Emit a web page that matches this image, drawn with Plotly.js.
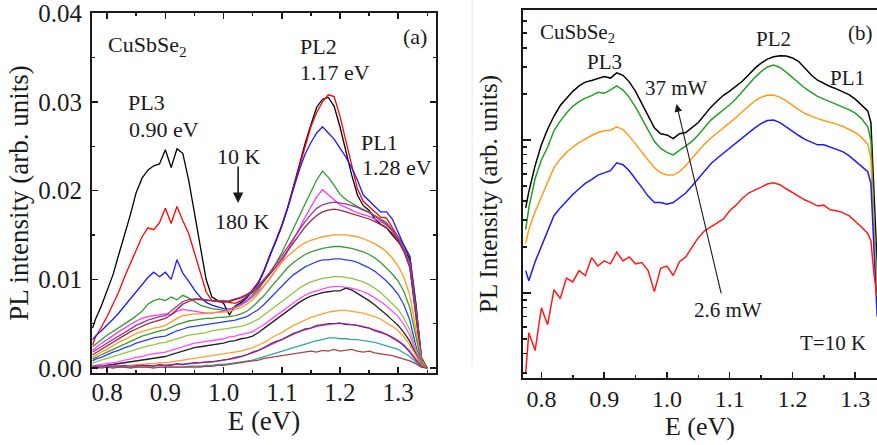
<!DOCTYPE html>
<html><head><meta charset="utf-8">
<script src="https://cdn.plot.ly/plotly-3.0.1.min.js"></script>
<style>html,body{margin:0;padding:0;background:#fff}#chart{width:877px;height:445px}</style>
</head><body><div id="chart"></div>
<script>
// ---------- Panel (a): temperature series, E (eV) vs PL intensity ----------
const energyA = [0.775,0.78,0.79,0.80,0.81,0.82,0.83,0.84,0.85,0.86,0.87,0.88,0.89,0.90,0.91,0.92,0.93,0.94,0.95,0.96,0.97,0.98,0.99,1.00,1.01,1.02,1.03,1.04,1.05,1.06,1.07,1.08,1.09,1.10,1.11,1.12,1.13,1.14,1.15,1.16,1.17,1.18,1.19,1.20,1.21,1.22,1.23,1.24,1.25,1.26,1.27,1.28,1.29,1.30,1.31,1.32,1.33,1.34,1.35];
const tempLabels = ['10 K','20 K','30 K','40 K','50 K','60 K','70 K','80 K','90 K','100 K','110 K','120 K','130 K','140 K','150 K','160 K','170 K','180 K'];
const pl10K = [4.5e-3,5.5e-3,7.0e-3,8.7e-3,10.5e-3,12.8e-3,15.0e-3,17.3e-3,19.8e-3,21.4e-3,22.3e-3,22.8e-3,23.0e-3,24.6e-3,22.6e-3,24.7e-3,24.2e-3,21.2e-3,17.5e-3,13.7e-3,10.0e-3,8.0e-3,7.6e-3,7.3e-3,6.0e-3,7.0e-3,7.4e-3,8.0e-3,8.8e-3,9.6e-3,11.0e-3,12.8e-3,14.3e-3,16.0e-3,18.0e-3,20.4e-3,23.0e-3,25.3e-3,27.4e-3,29.4e-3,30.3e-3,30.5e-3,29.5e-3,27.2e-3,24.5e-3,21.8e-3,19.5e-3,18.3e-3,17.8e-3,16.8e-3,16.2e-3,15.8e-3,15.0e-3,14.3e-3,13.5e-3,12.2e-3,7.0e-3,1.0e-3,0];
const pl20K = [2.6e-3,3.5e-3,4.6e-3,5.8e-3,7.2e-3,8.6e-3,10.3e-3,11.8e-3,13.3e-3,14.8e-3,15.8e-3,15.6e-3,16.4e-3,18.0e-3,16.3e-3,18.2e-3,16.6e-3,15.2e-3,13.0e-3,10.8e-3,8.6e-3,7.6e-3,7.5e-3,7.6e-3,7.4e-3,7.3e-3,7.6e-3,8.0e-3,8.9e-3,9.7e-3,11.0e-3,12.7e-3,14.4e-3,16.1e-3,18.1e-3,20.4e-3,22.9e-3,25.2e-3,27.2e-3,28.8e-3,30.0e-3,30.8e-3,30.6e-3,28.4e-3,25.6e-3,22.8e-3,20.2e-3,18.8e-3,18.2e-3,17.6e-3,17.0e-3,16.9e-3,15.8e-3,14.8e-3,13.8e-3,12.6e-3,7.5e-3,1.2e-3,0];
const pl30K = [3.2e-3,3.6e-3,4.2e-3,4.8e-3,5.5e-3,6.2e-3,7.0e-3,7.7e-3,8.6e-3,9.3e-3,10.2e-3,10.8e-3,10.3e-3,10.8e-3,10.0e-3,12.2e-3,10.7e-3,9.8e-3,8.8e-3,8.0e-3,7.4e-3,7.1e-3,6.9e-3,6.7e-3,6.6e-3,6.9e-3,7.3e-3,7.9e-3,8.7e-3,9.6e-3,11.1e-3,12.7e-3,14.3e-3,16.0e-3,18.0e-3,20.2e-3,22.3e-3,24.1e-3,25.4e-3,26.5e-3,27.2e-3,26.5e-3,25.8e-3,24.8e-3,23.8e-3,22.6e-3,21.2e-3,19.5e-3,18.8e-3,18.2e-3,17.6e-3,17.6e-3,16.8e-3,15.2e-3,13.8e-3,12.6e-3,7.5e-3,1.0e-3,0];
const pl40K = [2.4e-3,2.7e-3,3.2e-3,3.7e-3,4.1e-3,4.5e-3,5.0e-3,5.4e-3,5.9e-3,6.4e-3,7.2e-3,7.6e-3,7.8e-3,7.6e-3,8.0e-3,7.7e-3,8.2e-3,7.9e-3,7.5e-3,7.1e-3,6.9e-3,6.7e-3,6.6e-3,6.5e-3,6.6e-3,6.9e-3,7.2e-3,7.6e-3,8.2e-3,8.9e-3,9.8e-3,10.8e-3,11.8e-3,13.0e-3,14.3e-3,15.7e-3,17.1e-3,18.5e-3,19.9e-3,21.2e-3,22.2e-3,21.5e-3,20.6e-3,19.6e-3,19.0e-3,18.6e-3,18.2e-3,17.9e-3,17.6e-3,17.2e-3,16.8e-3,16.4e-3,15.6e-3,14.7e-3,13.5e-3,11.8e-3,6.8e-3,1.0e-3,0];
const pl50K = [2.0e-3,2.3e-3,2.8e-3,3.2e-3,3.7e-3,4.1e-3,4.5e-3,4.9e-3,5.3e-3,5.6e-3,5.8e-3,5.9e-3,6.0e-3,6.1e-3,6.0e-3,6.4e-3,6.6e-3,6.5e-3,6.4e-3,6.3e-3,6.2e-3,6.2e-3,6.3e-3,6.4e-3,6.6e-3,6.8e-3,7.1e-3,7.5e-3,8.0e-3,8.6e-3,9.3e-3,10.1e-3,11.0e-3,12.0e-3,13.2e-3,14.4e-3,15.7e-3,17.0e-3,18.2e-3,19.3e-3,20.1e-3,19.5e-3,18.9e-3,18.4e-3,18.1e-3,17.8e-3,17.5e-3,17.3e-3,17.1e-3,16.8e-3,16.5e-3,16.1e-3,15.5e-3,14.6e-3,13.4e-3,11.6e-3,6.5e-3,1.0e-3,0];
const pl60K = [1.8e-3,2.0e-3,2.4e-3,2.8e-3,3.2e-3,3.6e-3,4.0e-3,4.4e-3,4.8e-3,5.1e-3,5.4e-3,5.6e-3,5.8e-3,5.9e-3,6.4e-3,7.0e-3,7.5e-3,7.7e-3,7.8e-3,7.8e-3,7.7e-3,7.6e-3,7.6e-3,7.5e-3,7.6e-3,7.8e-3,8.0e-3,8.3e-3,8.7e-3,9.3e-3,10.0e-3,10.8e-3,11.7e-3,12.6e-3,13.6e-3,14.6e-3,15.6e-3,16.5e-3,17.3e-3,18.0e-3,18.4e-3,18.6e-3,18.7e-3,18.6e-3,18.5e-3,18.3e-3,18.1e-3,17.8e-3,17.5e-3,17.1e-3,16.7e-3,16.2e-3,15.5e-3,14.5e-3,13.3e-3,11.5e-3,6.3e-3,0.9e-3,0];
const pl70K = [1.5e-3,1.7e-3,2.1e-3,2.5e-3,2.9e-3,3.3e-3,3.7e-3,4.1e-3,4.4e-3,4.7e-3,5.0e-3,5.2e-3,5.4e-3,5.6e-3,6.0e-3,6.6e-3,7.2e-3,7.5e-3,7.7e-3,7.7e-3,7.6e-3,7.6e-3,7.5e-3,7.4e-3,7.5e-3,7.7e-3,7.9e-3,8.2e-3,8.5e-3,9.1e-3,9.8e-3,10.6e-3,11.4e-3,12.3e-3,13.2e-3,14.1e-3,15.0e-3,15.9e-3,16.6e-3,17.2e-3,17.6e-3,17.8e-3,17.9e-3,17.8e-3,17.6e-3,17.4e-3,17.2e-3,17.0e-3,16.8e-3,16.5e-3,16.2e-3,15.8e-3,15.2e-3,14.3e-3,13.1e-3,11.3e-3,6.2e-3,0.9e-3,0];
const pl80K = [1.2e-3,1.4e-3,1.8e-3,2.1e-3,2.5e-3,2.9e-3,3.2e-3,3.6e-3,3.9e-3,4.1e-3,4.3e-3,4.5e-3,4.6e-3,4.8e-3,5.2e-3,5.6e-3,5.9e-3,6.0e-3,6.1e-3,6.1e-3,6.2e-3,6.2e-3,6.3e-3,6.3e-3,6.4e-3,6.6e-3,6.8e-3,7.2e-3,7.7e-3,8.4e-3,9.3e-3,10.2e-3,11.1e-3,11.9e-3,12.6e-3,13.2e-3,13.7e-3,14.1e-3,14.4e-3,14.6e-3,14.8e-3,14.9e-3,15.0e-3,15.0e-3,15.0e-3,14.9e-3,14.8e-3,14.6e-3,14.3e-3,14.0e-3,13.6e-3,13.1e-3,12.4e-3,11.5e-3,10.2e-3,8.2e-3,4.5e-3,0.8e-3,0];
const pl90K = [1.0e-3,1.2e-3,1.5e-3,1.8e-3,2.1e-3,2.4e-3,2.7e-3,3.0e-3,3.3e-3,3.6e-3,3.8e-3,4.0e-3,4.2e-3,4.3e-3,4.6e-3,4.9e-3,5.1e-3,5.3e-3,5.4e-3,5.5e-3,5.6e-3,5.6e-3,5.7e-3,5.7e-3,5.8e-3,5.9e-3,6.1e-3,6.4e-3,6.9e-3,7.5e-3,8.2e-3,9.0e-3,9.8e-3,10.6e-3,11.3e-3,11.9e-3,12.4e-3,12.8e-3,13.1e-3,13.3e-3,13.5e-3,13.6e-3,13.7e-3,13.7e-3,13.6e-3,13.5e-3,13.3e-3,13.1e-3,12.8e-3,12.4e-3,11.9e-3,11.3e-3,10.6e-3,9.8e-3,8.6e-3,6.8e-3,3.5e-3,0.6e-3,0];
const pl100K = [0.8e-3,1.0e-3,1.2e-3,1.5e-3,1.8e-3,2.0e-3,2.3e-3,2.5e-3,2.8e-3,3.0e-3,3.2e-3,3.4e-3,3.5e-3,3.6e-3,3.9e-3,4.2e-3,4.4e-3,4.6e-3,4.7e-3,4.8e-3,4.9e-3,5.0e-3,5.1e-3,5.2e-3,5.3e-3,5.4e-3,5.6e-3,5.8e-3,6.2e-3,6.6e-3,7.2e-3,7.9e-3,8.5e-3,9.2e-3,9.9e-3,10.5e-3,11.0e-3,11.4e-3,11.7e-3,12.0e-3,12.2e-3,12.2e-3,12.3e-3,12.3e-3,12.2e-3,12.1e-3,11.9e-3,11.6e-3,11.3e-3,10.9e-3,10.4e-3,9.8e-3,9.1e-3,8.3e-3,7.1e-3,5.4e-3,2.6e-3,0.4e-3,0];
const pl110K = [0.5e-3,0.7e-3,0.9e-3,1.1e-3,1.3e-3,1.5e-3,1.7e-3,1.9e-3,2.1e-3,2.3e-3,2.5e-3,2.6e-3,2.8e-3,2.9e-3,3.1e-3,3.3e-3,3.5e-3,3.7e-3,3.8e-3,3.9e-3,4.0e-3,4.2e-3,4.3e-3,4.4e-3,4.5e-3,4.6e-3,4.7e-3,4.9e-3,5.2e-3,5.5e-3,6.0e-3,6.5e-3,7.1e-3,7.6e-3,8.1e-3,8.6e-3,9.0e-3,9.4e-3,9.7e-3,9.9e-3,10.1e-3,10.2e-3,10.3e-3,10.3e-3,10.2e-3,10.1e-3,9.9e-3,9.7e-3,9.4e-3,9.0e-3,8.5e-3,7.9e-3,7.3e-3,6.6e-3,5.6e-3,4.3e-3,2.2e-3,0.4e-3,0];
const pl120K = [0.2e-3,0.3e-3,0.4e-3,0.5e-3,0.6e-3,0.7e-3,0.9e-3,1.0e-3,1.2e-3,1.3e-3,1.5e-3,1.6e-3,1.7e-3,1.8e-3,2.0e-3,2.2e-3,2.4e-3,2.6e-3,2.8e-3,2.9e-3,3.0e-3,3.1e-3,3.2e-3,3.3e-3,3.5e-3,3.6e-3,3.8e-3,3.9e-3,4.1e-3,4.5e-3,4.9e-3,5.4e-3,5.9e-3,6.4e-3,6.9e-3,7.4e-3,7.8e-3,8.2e-3,8.5e-3,8.7e-3,8.9e-3,9.1e-3,9.2e-3,9.2e-3,9.1e-3,9.0e-3,8.8e-3,8.6e-3,8.3e-3,7.9e-3,7.5e-3,7.0e-3,6.4e-3,5.8e-3,4.9e-3,3.7e-3,1.9e-3,0.3e-3,0];
const pl130K = [0,0.1e-3,0.2e-3,0.3e-3,0.4e-3,0.5e-3,0.6e-3,0.7e-3,0.8e-3,0.9e-3,1.0e-3,1.1e-3,1.2e-3,1.3e-3,1.5e-3,1.7e-3,1.9e-3,2.1e-3,2.3e-3,2.4e-3,2.5e-3,2.6e-3,2.7e-3,2.8e-3,3.0e-3,3.1e-3,3.3e-3,3.4e-3,3.6e-3,4.0e-3,4.5e-3,5.0e-3,5.5e-3,6.0e-3,6.5e-3,7.0e-3,7.4e-3,7.8e-3,8.1e-3,8.3e-3,8.5e-3,8.6e-3,8.7e-3,8.7e-3,9.0e-3,8.8e-3,8.4e-3,8.0e-3,7.6e-3,7.1e-3,6.6e-3,6.0e-3,5.4e-3,4.8e-3,4.0e-3,3.0e-3,1.6e-3,0.3e-3,0];
const pl140K = [0,0,0.1e-3,0.1e-3,0.2e-3,0.2e-3,0.3e-3,0.3e-3,0.4e-3,0.4e-3,0.5e-3,0.5e-3,0.6e-3,0.6e-3,0.7e-3,0.8e-3,0.9e-3,1.0e-3,1.1e-3,1.2e-3,1.3e-3,1.4e-3,1.5e-3,1.6e-3,1.7e-3,1.8e-3,1.9e-3,2.1e-3,2.3e-3,2.6e-3,2.9e-3,3.3e-3,3.7e-3,4.0e-3,4.4e-3,4.8e-3,5.1e-3,5.4e-3,5.7e-3,5.9e-3,6.1e-3,6.3e-3,6.4e-3,6.5e-3,6.5e-3,6.4e-3,6.3e-3,6.2e-3,6.0e-3,5.8e-3,5.5e-3,5.1e-3,4.7e-3,4.2e-3,3.5e-3,2.6e-3,1.4e-3,0.3e-3,0];
const pl150K = [0.3e-3,0.2e-3,0.3e-3,0.2e-3,0.3e-3,0.2e-3,0.3e-3,0.2e-3,0.3e-3,0.3e-3,0.2e-3,0.3e-3,0.3e-3,0.3e-3,0.4e-3,0.4e-3,0.4e-3,0.5e-3,0.5e-3,0.6e-3,0.6e-3,0.7e-3,0.8e-3,0.9e-3,1.0e-3,1.1e-3,1.3e-3,1.5e-3,1.7e-3,2.0e-3,2.3e-3,2.6e-3,2.9e-3,3.2e-3,3.5e-3,3.8e-3,4.1e-3,4.3e-3,4.5e-3,4.7e-3,4.8e-3,4.9e-3,5.0e-3,5.0e-3,5.0e-3,4.9e-3,4.8e-3,4.7e-3,4.5e-3,4.3e-3,4.1e-3,3.8e-3,3.5e-3,3.1e-3,2.6e-3,1.9e-3,1.0e-3,0.2e-3,0];
const pl160K = [0.1e-3,0.2e-3,0.1e-3,0.3e-3,0.1e-3,0.2e-3,0.2e-3,0.1e-3,0.2e-3,0.3e-3,0.3e-3,0.2e-3,0.4e-3,0.3e-3,0.3e-3,0.5e-3,0.4e-3,0.5e-3,0.6e-3,0.6e-3,0.7e-3,0.7e-3,0.8e-3,0.9e-3,1.0e-3,1.2e-3,1.3e-3,1.5e-3,1.8e-3,2.0e-3,2.3e-3,2.7e-3,3.0e-3,3.2e-3,3.6e-3,3.9e-3,4.1e-3,4.4e-3,4.5e-3,4.8e-3,4.9e-3,5.0e-3,5.0e-3,5.1e-3,4.9e-3,4.9e-3,4.8e-3,4.6e-3,4.5e-3,4.2e-3,4.0e-3,3.8e-3,3.4e-3,3.0e-3,2.5e-3,1.8e-3,0.9e-3,0.2e-3,0];
const pl170K = [0.1e-3,0.1e-3,0.1e-3,0.1e-3,0.1e-3,0.1e-3,0.1e-3,0.1e-3,0.1e-3,0.1e-3,0.1e-3,0.1e-3,0.1e-3,0.1e-3,0.1e-3,0.1e-3,0.1e-3,0.2e-3,0.2e-3,0.2e-3,0.3e-3,0.3e-3,0.4e-3,0.4e-3,0.5e-3,0.6e-3,0.7e-3,0.8e-3,0.9e-3,1.1e-3,1.3e-3,1.5e-3,1.7e-3,1.9e-3,2.1e-3,2.3e-3,2.5e-3,2.7e-3,2.9e-3,3.1e-3,3.2e-3,3.4e-3,3.4e-3,3.3e-3,3.3e-3,3.2e-3,3.2e-3,3.1e-3,3.0e-3,2.9e-3,2.7e-3,2.5e-3,2.3e-3,2.1e-3,1.7e-3,1.3e-3,0.7e-3,0.1e-3,0];
const pl180K = [0,0.1e-3,0,0.1e-3,0,0.1e-3,0.1e-3,0,0.1e-3,0.1e-3,0.1e-3,0,0.1e-3,0.1e-3,0.1e-3,0.1e-3,0.1e-3,0.1e-3,0.1e-3,0.1e-3,0.2e-3,0.2e-3,0.3e-3,0.3e-3,0.4e-3,0.5e-3,0.6e-3,0.7e-3,0.8e-3,0.9e-3,1.1e-3,1.2e-3,1.3e-3,1.4e-3,1.5e-3,1.6e-3,1.7e-3,1.8e-3,1.9e-3,1.8e-3,2.0e-3,1.9e-3,2.1e-3,1.9e-3,2.0e-3,2.1e-3,1.9e-3,1.8e-3,1.9e-3,1.7e-3,1.6e-3,1.5e-3,1.4e-3,1.2e-3,1.0e-3,0.8e-3,0.5e-3,0.1e-3,0];

// ---------- Panel (b): excitation power series at T = 10 K (log scale, arb. units) ----------
const energyB = [0.775,0.78,0.79,0.80,0.81,0.82,0.83,0.84,0.85,0.86,0.87,0.88,0.89,0.90,0.91,0.92,0.93,0.94,0.95,0.96,0.97,0.98,0.99,1.00,1.01,1.02,1.03,1.04,1.05,1.06,1.07,1.08,1.09,1.10,1.11,1.12,1.13,1.14,1.15,1.16,1.17,1.18,1.19,1.20,1.21,1.22,1.23,1.24,1.25,1.26,1.27,1.28,1.29,1.30,1.31,1.32,1.325,1.33,1.335];
const powerLabels = ['37 mW','P4','P3','P2','2.6 mW'];
const pw37 = [3.6,4.6,6.8,9.3,11.8,14.3,16.8,18.8,20.8,22.6,23.9,24.5,25.3,26.0,25.4,27.5,26.5,24.0,20.8,17.3,14.3,12.0,11.0,10.8,10.2,11.0,11.2,12.0,13.0,14.6,16.4,18.0,19.6,20.9,22.4,24.2,26.6,29.4,31.8,33.8,35.0,35.6,35.4,34.4,32.6,29.5,26.6,24.6,23.4,22.4,21.6,20.8,19.8,18.5,17.0,15.5,13.0,4.0,1.5];
const pwP4 = [2.6,3.6,5.6,7.4,9.0,11.5,13.3,15.0,16.6,17.8,18.8,19.5,20.5,20.2,21.3,22.6,21.2,19.0,16.4,13.8,11.6,9.8,8.8,8.3,8.0,8.6,9.2,9.8,10.8,12.0,13.5,14.6,15.7,17.0,18.6,20.8,23.2,25.6,28.0,30.0,30.9,29.8,27.8,25.6,23.6,21.8,20.5,19.3,18.5,17.8,17.2,16.6,15.8,15.0,13.8,12.2,10.0,3.0,1.1];
const pwP3 = [2.1,2.6,3.4,4.3,5.3,6.6,7.5,8.3,9.0,9.6,10.2,10.7,11.2,11.5,11.6,12.2,11.7,10.6,9.4,8.3,7.4,6.6,6.1,5.9,5.9,6.2,6.8,7.6,8.5,9.4,10.3,11.1,11.9,12.9,14.0,15.3,16.6,18.0,19.0,19.6,19.7,19.0,18.0,16.8,15.8,14.9,14.3,13.8,13.4,13.1,12.7,12.3,11.8,11.2,10.4,9.4,7.5,2.5,0.9];
const pwP2 = [1.4,1.2,1.6,2.0,2.5,3.2,3.6,4.0,4.4,4.8,5.2,5.5,5.9,6.1,6.3,7.1,6.9,6.3,5.6,4.9,4.3,3.9,3.9,3.8,3.9,4.2,4.5,5.0,5.6,6.3,7.0,7.6,8.2,8.9,9.6,10.4,11.2,12.0,12.8,13.4,13.5,13.0,12.2,11.4,10.7,10.1,9.7,9.3,9.3,9.0,8.7,8.4,7.9,7.3,6.7,6.2,5.2,1.8,0.7];
const pw2p6 = [0.30,0.55,0.42,0.80,0.62,1.05,0.92,1.25,1.18,1.40,1.30,1.70,1.50,1.62,1.55,1.85,1.62,1.72,1.55,1.58,1.40,1.02,1.45,1.50,1.30,1.60,1.72,2.00,2.30,2.55,2.70,2.85,3.05,3.45,3.75,4.15,4.50,4.70,4.95,5.15,5.25,5.10,4.80,4.55,4.30,4.05,3.90,3.70,3.75,3.50,3.45,3.35,3.20,2.95,2.70,2.45,2.20,1.30,0.95];

// ---------- styling ----------
const seriesA = [pl10K,pl20K,pl30K,pl40K,pl50K,pl60K,pl70K,pl80K,pl90K,pl100K,pl110K,pl120K,pl130K,pl140K,pl150K,pl160K,pl170K,pl180K];
const colorsA = ['#000000','#ff0000','#1a1aff','#2e9a2e','#f03cf0','#a0309a','#9a2a3a','#ff9a20','#3a9a3a','#2f3ff0','#8cc63f','#ff4cff','#222222','#ffa030','#d040c8','#7a2a82','#36a6a6','#a84444'];
const seriesB = [pw37,pwP4,pwP3,pwP2,pw2p6];
const colorsB = ['#000000','#22a022','#ff9a1a','#1a1aff','#ff1a1a'];

const traces = [];
seriesA.forEach((s,i)=>traces.push({x:energyA,y:s,name:tempLabels[i],type:'scatter',mode:'lines',
  line:{color:colorsA[i],width:1.3},xaxis:'x',yaxis:'y',hoverinfo:'x+y+name'}));
seriesB.forEach((s,i)=>traces.push({x:energyB,y:s,name:powerLabels[i],type:'scatter',mode:'lines',
  line:{color:colorsB[i],width:1.5},xaxis:'x2',yaxis:'y2',hoverinfo:'x+y+name'}));

const FONT = "'Liberation Serif', 'Times New Roman', Times, serif";
const INK = '#1a1a1a';
const axCommon = {showgrid:false, zeroline:false, showline:true, linecolor:INK, linewidth:2,
  ticks:'inside', tickcolor:INK, tickwidth:1.5, automargin:false, ticklabeloverflow:'allow'};

function ann(x,y,text,xr,yr,size){return {x:x,y:y,text:text,xref:xr,yref:yr,showarrow:false,
  font:{family:FONT,size:size,color:INK},xanchor:'center',yanchor:'middle'};}

const annotations = [
  ann(0.869,0.0363,'CuSbSe<sub>2</sub>','x','y',22),
  ann(1.329,0.0374,'(a)','x','y',22),
  ann(1.1625,0.0363,'PL2','x','y',22),
  ann(1.1918,0.0333,'1.17 eV','x','y',22),
  ann(0.867,0.0299,'PL3','x','y',22),
  ann(0.898,0.0269,'0.90 eV','x','y',22),
  ann(1.2674,0.02545,'PL1','x','y',22),
  ann(1.298,0.0226,'1.28 eV','x','y',22),
  ann(1.027,0.0238,'10 K','x','y',22),
  ann(1.032,0.01654,'180 K','x','y',22),
  {x:1.025,y:0.0186,ax:1.025,ay:0.0229,xref:'x',yref:'y',axref:'x',ayref:'y',text:'',showarrow:true,
   arrowhead:2,arrowsize:1.3,arrowwidth:1.6,arrowcolor:INK},
  ann(0.858,1.699,'CuSbSe<sub>2</sub>','x2','y2',21),
  ann(1.309,1.699,'(b)','x2','y2',21),
  ann(0.901,1.51,'PL3','x2','y2',21),
  ann(1.169,1.66,'PL2','x2','y2',21),
  ann(1.287,1.405,'PL1','x2','y2',21),
  ann(1.016,1.34,'37 mW','x2','y2',21),
  ann(1.097,-0.111,'2.6 mW','x2','y2',21),
  ann(1.265,-0.327,'T=10 K','x2','y2',21),
  {x:1.0153,y:1.235,ax:1.087,ay:-0.013,xref:'x2',yref:'y2',axref:'x2',ayref:'y2',text:'',showarrow:true,
   arrowhead:2,arrowsize:1.4,arrowwidth:1.1,arrowcolor:INK}
];

const layout = {
  width:877, height:445,
  margin:{l:0,r:0,t:0,b:0,pad:0},
  paper_bgcolor:'#ffffff', plot_bgcolor:'rgba(0,0,0,0)',
  showlegend:false,
  font:{family:FONT,color:INK},
  xaxis:Object.assign({}, axCommon, {domain:[92/877,436/877], range:[0.774,1.365], anchor:'y',
    tick0:0.8, dtick:0.1, tickformat:'.1f', ticklen:6, mirror:'ticks', ticklabelstandoff:-4,
    minor:{dtick:0.05, ticks:'inside', ticklen:3, tickwidth:1.5, tickcolor:INK},
    tickfont:{family:FONT,size:25,color:INK},
    title:{text:'E (eV)', font:{family:FONT,size:27,color:INK}, standoff:4}}),
  yaxis:Object.assign({}, axCommon, {domain:[72/445,432/445], range:[-0.00056,0.04002], anchor:'x',
    tick0:0, dtick:0.01, tickformat:'.2f', ticklen:6, mirror:'ticks', ticklabelstandoff:3,
    minor:{dtick:0.005, ticks:'inside', ticklen:3, tickwidth:1.5, tickcolor:INK},
    tickfont:{family:FONT,size:25,color:INK},
    title:{text:'PL intensity (arb. units)', font:{family:FONT,size:27,color:INK}, standoff:2}}),
  xaxis2:Object.assign({}, axCommon, {domain:[523/877,1], range:[0.7707,1.3347], anchor:'y2',
    tick0:0.8, dtick:0.1, tickformat:'.1f', ticklen:6, mirror:true, ticklabelstandoff:-2,
    minor:{dtick:0.05, ticks:'inside', ticklen:3, tickwidth:1.5, tickcolor:INK},
    tickfont:{family:FONT,size:24,color:INK},
    title:{text:'E (eV)', font:{family:FONT,size:26,color:INK}, standoff:2}}),
  yaxis2:Object.assign({}, axCommon, {domain:[67/445,435/445], type:'log', range:[-0.556,1.85], anchor:'x2',
    dtick:1, ticklen:8, mirror:true, showticklabels:false,
    minor:{dtick:'D1', ticks:'inside', ticklen:4, tickwidth:1.3, tickcolor:INK},
    title:{text:'PL Intensity (arb. units)', font:{family:FONT,size:25,color:INK}, standoff:16}}),
  annotations:annotations,
  shapes:[{type:'line',xref:'paper',yref:'paper',x0:472/877,x1:472/877,y0:78/445,y1:1,
    line:{color:'#e4e4e4',width:1}}]
};

Plotly.newPlot('chart', traces, layout, {staticPlot:true, displayModeBar:false});
</script>
</body></html>
